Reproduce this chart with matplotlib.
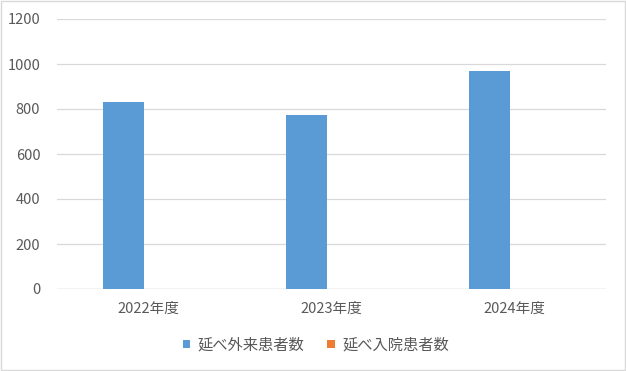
import numpy as np
import matplotlib
matplotlib.use('Agg')
import matplotlib.pyplot as plt
from matplotlib.patches import Rectangle

plt.rcParams['font.family'] = ['Noto Sans CJK JP', 'DejaVu Sans']

# data
categories = ['2022年度', '2023年度', '2024年度']
series_names = ['延べ外来患者数', '延べ入院患者数']
outpatient = [830, 773, 968]
inpatient = [0, 0, 0]
yticks = [0, 200, 400, 600, 800, 1000, 1200]

colors = ['#5B9BD5', '#ED7D31']
text_color = '#595959'
grid_color = '#D9D9D9'

fig = plt.figure(figsize=(6.26, 3.71), dpi=100)
fig.patch.set_facecolor('white')
# chart frame
fig.patches.append(Rectangle((0.0015, 0.002), 0.997, 0.996, transform=fig.transFigure,
                             fill=False, edgecolor='#D9D9D9', lw=1.0))

ax = fig.add_axes([57/626, 1-289/371, 549/626, 270/371])
x = np.arange(len(categories))
bw = 0.224
off = 0.137
b1 = ax.bar(x - off, outpatient, width=bw, color=colors[0], zorder=3, label=series_names[0])
b2 = ax.bar(x + off, inpatient, width=bw, color=colors[1], zorder=3, label=series_names[1])

ax.set_xlim(-0.5, len(categories) - 0.5)
ax.set_ylim(0, 1200)
ax.set_yticks(yticks)
ax.set_xticks(x)
ax.set_xticklabels(categories)
ax.grid(axis='y', color=grid_color, lw=0.9, zorder=0)
for s in ax.spines.values():
    s.set_visible(False)
ax.axhline(0, color=grid_color, lw=1.0, zorder=2)
ax.tick_params(axis='both', length=0, colors=text_color, labelsize=10.5)
ax.tick_params(axis='y', pad=12)
ax.tick_params(axis='x', pad=9)

leg = fig.legend(handles=[b1, b2], labels=series_names, loc='center',
                 bbox_to_anchor=(316/626, 1-345/371), ncol=2, frameon=False,
                 fontsize=11, handlelength=0.5, handleheight=0.5,
                 handletextpad=0.5, columnspacing=1.5)
for t in leg.get_texts():
    t.set_color(text_color)

fig.savefig('out.png', dpi=100, facecolor='white')
